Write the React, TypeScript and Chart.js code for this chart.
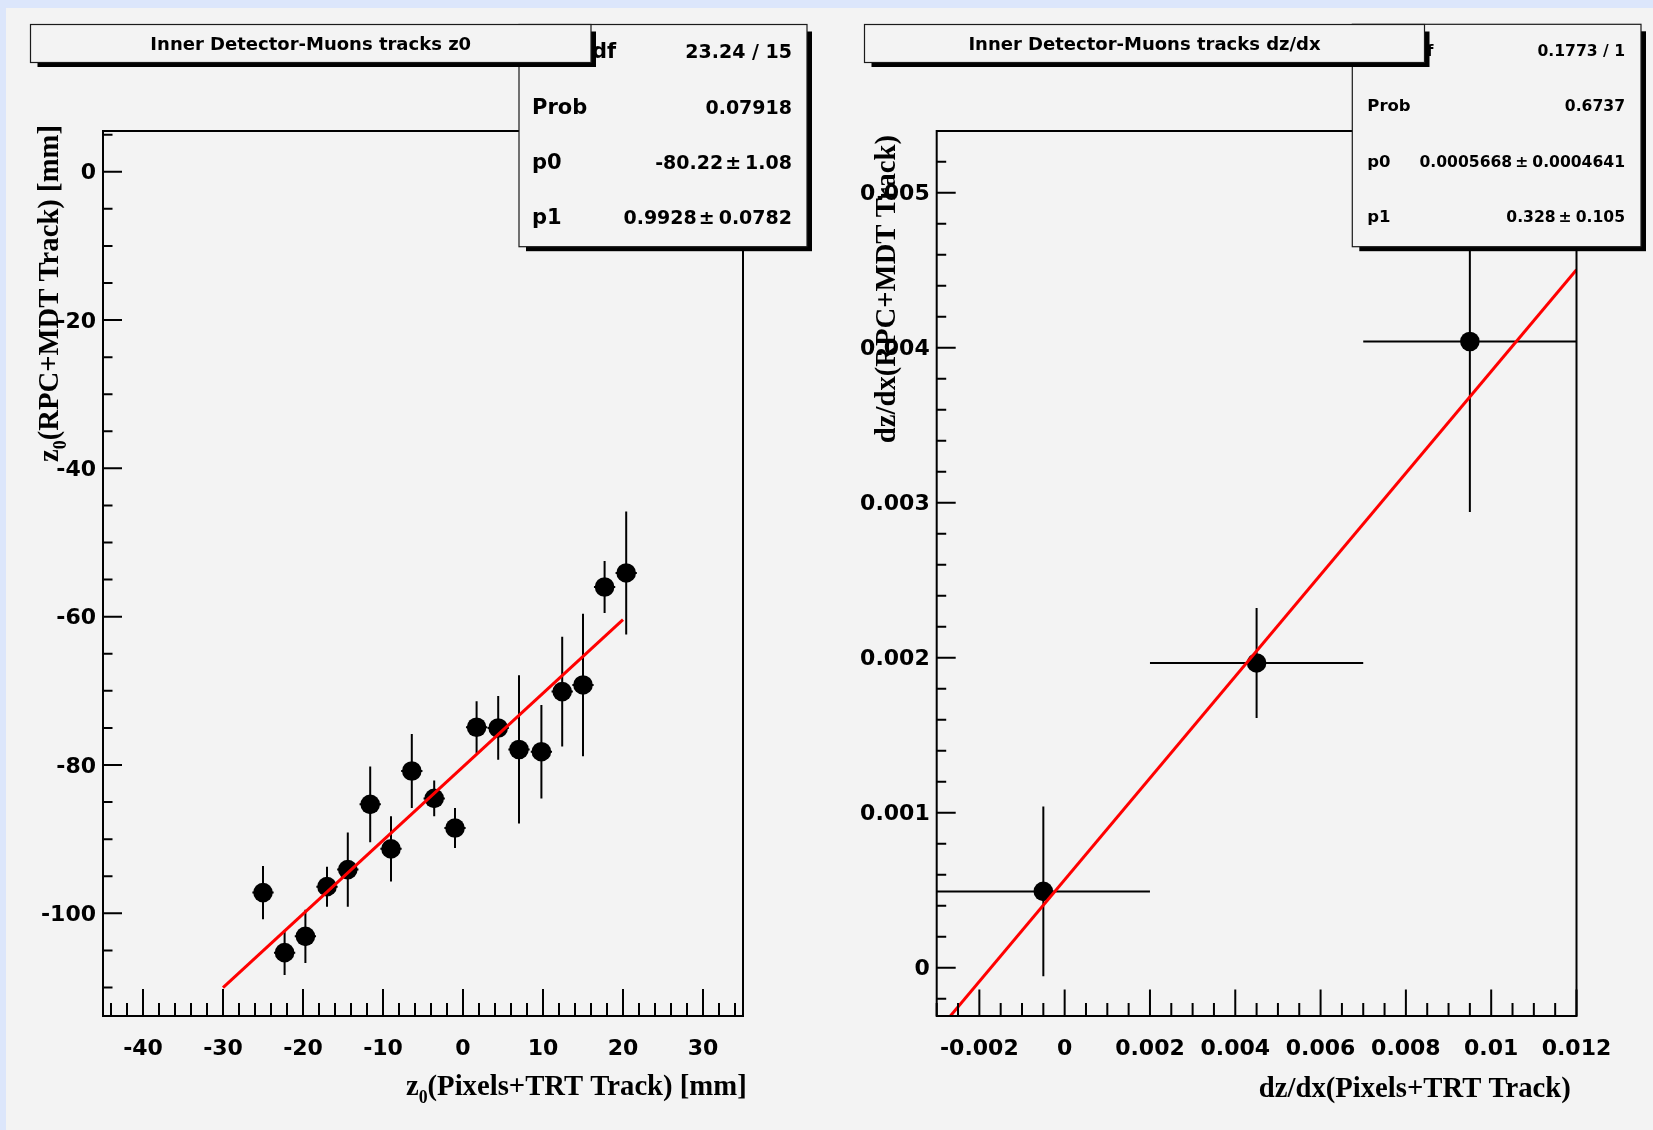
import { useEffect, useRef } from 'react';
import { Chart, registerables } from 'chart.js';

Chart.register(...registerables);

// ---------- data: left panel (z0) ----------
const z0X = [-25.0, -22.3, -19.7, -17.0, -14.4, -11.6, -9.0, -6.4, -3.6, -1.0, 1.7, 4.4, 7.0, 9.8, 12.4, 15.0, 17.7, 20.4];
const z0Y = [-97.2, -105.3, -103.1, -96.4, -94.1, -85.3, -91.3, -80.8, -84.5, -88.5, -74.9, -75.0, -77.9, -78.2, -70.1, -69.2, -56.0, -54.1];
const z0XErr = [1.33, 1.33, 1.33, 1.33, 1.33, 1.33, 1.33, 1.33, 1.33, 1.33, 1.33, 1.33, 1.33, 1.33, 1.33, 1.33, 1.33, 1.33];
const z0YErr = [3.6, 3.0, 3.6, 2.7, 5.0, 5.1, 4.4, 5.0, 2.4, 2.7, 3.5, 4.3, 10.0, 6.3, 7.4, 9.6, 3.5, 8.3];
const z0FitX = [-30, 20];
const z0FitY = [-110.0, -60.4];
const z0XTicks = [-40, -30, -20, -10, 0, 10, 20, 30];
const z0YTicks = [0, -20, -40, -60, -80, -100];
const z0StatLabels = ['χ² / ndf', 'Prob', 'p0', 'p1'];
const z0StatValues = ['23.24 / 15', '0.07918', '-80.22', '0.9928'];
const z0StatErrors = ['', '', '1.08', '0.0782'];

// ---------- data: right panel (dz/dx) ----------
const dzX = [-0.0005, 0.0045, 0.0095];
const dzY = [0.000492, 0.001966, 0.00404];
const dzXErr = [0.0025, 0.0025, 0.0025];
const dzYErr = [0.000547, 0.000355, 0.0011];
const dzFitX = [-0.003, 0.012];
const dzFitY = [-0.000417, 0.004503];
const dzXTicks = [-0.002, 0, 0.002, 0.004, 0.006, 0.008, 0.01, 0.012];
const dzYTicks = [0, 0.001, 0.002, 0.003, 0.004, 0.005];
const dzStatLabels = ['χ² / ndf', 'Prob', 'p0', 'p1'];
const dzStatValues = ['0.1773 / 1', '0.6737', '0.0005668', '0.328'];
const dzStatErrors = ['', '', '0.0004641', '0.105'];

const PAD = '#f3f3f3';
const BLUE = '#dce6fb';
const SANS = '"DejaVu Sans"';
const SERIF = '"Liberation Serif"';

type Part = { t: string; sub?: boolean };

interface Panel {
  w: number;
  h: number;
  area: { l: number; r: number; t: number; b: number };
  xMin: number; xMax: number; yMin: number; yMax: number;
  xTicks: number[]; yTicks: number[];
  xMinor: number; yMinor: number;
  xMajLen: number; xMinLen: number; yMajLen: number; yMinLen: number;
  xs: number[]; ys: number[]; ex: number[]; ey: number[];
  fitX: number[]; fitY: number[];
  fmt: (v: number) => string;
  title: string;
  titleBox: [number, number, number, number];
  titleBase: number;
  statLabels: string[]; statValues: string[]; statErrors: string[];
  statBox: [number, number, number, number];
  statLabelFont: number; statValueFont: number;
  statLabelX: number; statValueR: number; statBases: number[];
  pmGapL: number; pmGapR: number;
  xTitle: Part[]; xTitleR: number; xTitleBase: number;
  yTitle: Part[]; yTitleTop: number; yTitleBase: number;
}

const fmtNum = (v: number) => String(parseFloat(v.toFixed(6)));

const panels: Panel[] = [
  {
    w: 824, h: 1122,
    area: { l: 97, r: 737, t: 123, b: 1008 },
    xMin: -45, xMax: 35, yMin: -113.84, yMax: 5.49,
    xTicks: z0XTicks, yTicks: z0YTicks,
    xMinor: 2, yMinor: 5,
    xMajLen: 27, xMinLen: 13, yMajLen: 19, yMinLen: 9.5,
    xs: z0X, ys: z0Y, ex: z0XErr, ey: z0YErr,
    fitX: z0FitX, fitY: z0FitY,
    fmt: fmtNum,
    title: 'Inner Detector-Muons tracks z0',
    titleBox: [24.5, 16.5, 585, 54.5],
    titleBase: 42,
    statLabels: z0StatLabels, statValues: z0StatValues, statErrors: z0StatErrors,
    statBox: [513, 16.5, 801, 238.7],
    statLabelFont: 21, statValueFont: 19,
    statLabelX: 526, statValueR: 786, statBases: [50.3, 105.5, 160.7, 215.9],
    pmGapL: 2, pmGapR: 4,
    xTitle: [{ t: 'z' }, { t: '0', sub: true }, { t: '(Pixels+TRT Track) [mm]' }],
    xTitleR: 740.7, xTitleBase: 1087,
    yTitle: [{ t: 'z' }, { t: '0', sub: true }, { t: '(RPC+MDT Track) [mm]' }],
    yTitleTop: 117, yTitleBase: 52,
  },
  {
    w: 823, h: 1122,
    area: { l: 106.7, r: 746.5, t: 123, b: 1008 },
    xMin: -0.003, xMax: 0.012, yMin: -0.000312, yMax: 0.005398,
    xTicks: dzXTicks, yTicks: dzYTicks,
    xMinor: 0.0005, yMinor: 0.0002,
    xMajLen: 26.5, xMinLen: 13, yMajLen: 19, yMinLen: 9.5,
    xs: dzX, ys: dzY, ex: dzXErr, ey: dzYErr,
    fitX: dzFitX, fitY: dzFitY,
    fmt: fmtNum,
    title: 'Inner Detector-Muons tracks dz/dx',
    titleBox: [34.5, 16.5, 594.5, 54.5],
    titleBase: 42,
    statLabels: dzStatLabels, statValues: dzStatValues, statErrors: dzStatErrors,
    statBox: [522.3, 16.3, 811, 238.7],
    statLabelFont: 16.5, statValueFont: 15.6,
    statLabelX: 537.3, statValueR: 795, statBases: [48, 103, 158.7, 213.7],
    pmGapL: 3, pmGapR: 4,
    xTitle: [{ t: 'dz/dx(Pixels+TRT Track)' }],
    xTitleR: 740.8, xTitleBase: 1089,
    yTitle: [{ t: 'dz/dx(RPC+MDT Track)' }],
    yTitleTop: 127, yTitleBase: 65,
  },
];

function minorValues(min: number, max: number, step: number): number[] {
  const out: number[] = [];
  const s = Math.ceil(min / step - 1e-9);
  const e = Math.floor(max / step + 1e-9);
  for (let k = s; k <= e; k++) out.push(k * step);
  return out;
}

function drawPave(ctx: CanvasRenderingContext2D, l: number, t: number, r: number, b: number) {
  ctx.fillStyle = '#000';
  ctx.fillRect(l + 7, t + 7, r - l - 2, b - t - 2.5);
  ctx.fillStyle = PAD;
  ctx.fillRect(l, t, r - l, b - t);
  ctx.strokeStyle = '#1a1a1a';
  ctx.lineWidth = 1.2;
  ctx.strokeRect(l, t, r - l, b - t);
}

const TITLE_SIZE = 28.7;

function richWidth(ctx: CanvasRenderingContext2D, parts: Part[]) {
  let w = 0;
  for (const p of parts) {
    ctx.font = `bold ${p.sub ? TITLE_SIZE * 0.62 : TITLE_SIZE}px ${SERIF}`;
    w += ctx.measureText(p.t).width;
  }
  return w;
}

function drawRich(ctx: CanvasRenderingContext2D, parts: Part[], x: number, y: number) {
  let cx = x;
  ctx.textAlign = 'left';
  ctx.textBaseline = 'alphabetic';
  for (const p of parts) {
    const size = p.sub ? TITLE_SIZE * 0.62 : TITLE_SIZE;
    ctx.font = `bold ${size}px ${SERIF}`;
    ctx.fillText(p.t, cx, p.sub ? y + TITLE_SIZE * 0.27 : y);
    cx += ctx.measureText(p.t).width;
  }
}

function makePlugin(p: Panel) {
  return {
    id: 'rootPad',
    beforeDraw(chart: any) {
      const ctx: CanvasRenderingContext2D = chart.ctx;
      ctx.save();
      ctx.fillStyle = PAD;
      ctx.fillRect(0, 0, chart.width, chart.height);
      ctx.restore();
    },
    beforeDatasetsDraw(chart: any) {
      const ctx: CanvasRenderingContext2D = chart.ctx;
      const xs = chart.scales.x;
      const ys = chart.scales.y;
      const a = chart.chartArea;
      ctx.save();
      ctx.beginPath();
      ctx.rect(a.left, a.top, a.right - a.left, a.bottom - a.top);
      ctx.clip();
      ctx.strokeStyle = '#000';
      ctx.lineWidth = 2;
      ctx.beginPath();
      for (let i = 0; i < p.xs.length; i++) {
        const px = xs.getPixelForValue(p.xs[i]);
        const py = ys.getPixelForValue(p.ys[i]);
        ctx.moveTo(px, ys.getPixelForValue(p.ys[i] - p.ey[i]));
        ctx.lineTo(px, ys.getPixelForValue(p.ys[i] + p.ey[i]));
        ctx.moveTo(xs.getPixelForValue(p.xs[i] - p.ex[i]), py);
        ctx.lineTo(xs.getPixelForValue(p.xs[i] + p.ex[i]), py);
      }
      ctx.stroke();
      ctx.restore();
    },
    afterDraw(chart: any) {
      const ctx: CanvasRenderingContext2D = chart.ctx;
      const xs = chart.scales.x;
      const ys = chart.scales.y;
      const a = chart.chartArea;
      ctx.save();
      // inward ticks
      ctx.strokeStyle = '#000';
      ctx.lineWidth = 2;
      ctx.beginPath();
      for (const v of minorValues(p.xMin, p.xMax, p.xMinor)) {
        const px = xs.getPixelForValue(v);
        ctx.moveTo(px, a.bottom);
        ctx.lineTo(px, a.bottom - p.xMinLen);
      }
      for (const v of p.xTicks) {
        const px = xs.getPixelForValue(v);
        ctx.moveTo(px, a.bottom);
        ctx.lineTo(px, a.bottom - p.xMajLen);
      }
      for (const v of minorValues(p.yMin, p.yMax, p.yMinor)) {
        const py = ys.getPixelForValue(v);
        ctx.moveTo(a.left, py);
        ctx.lineTo(a.left + p.yMinLen, py);
      }
      for (const v of p.yTicks) {
        const py = ys.getPixelForValue(v);
        ctx.moveTo(a.left, py);
        ctx.lineTo(a.left + p.yMajLen, py);
      }
      ctx.stroke();
      // frame
      ctx.strokeRect(a.left, a.top, a.right - a.left, a.bottom - a.top);

      // axis titles
      ctx.fillStyle = '#000';
      const wx = richWidth(ctx, p.xTitle);
      drawRich(ctx, p.xTitle, p.xTitleR - wx, p.xTitleBase);
      const wy = richWidth(ctx, p.yTitle);
      ctx.save();
      ctx.translate(p.yTitleBase, p.yTitleTop);
      ctx.rotate(-Math.PI / 2);
      drawRich(ctx, p.yTitle, -wy, 0);
      ctx.restore();

      // stats box
      const [sl, st, sr, sb] = p.statBox;
      drawPave(ctx, sl, st, sr, sb);
      ctx.fillStyle = '#000';
      ctx.textBaseline = 'alphabetic';
      for (let i = 0; i < p.statLabels.length; i++) {
        const yb = p.statBases[i];
        ctx.font = `bold ${p.statLabelFont}px ${SANS}`;
        ctx.textAlign = 'left';
        ctx.fillText(p.statLabels[i], p.statLabelX, yb);
        ctx.font = `bold ${p.statValueFont}px ${SANS}`;
        ctx.textAlign = 'right';
        if (p.statErrors[i]) {
          let xr = p.statValueR;
          ctx.fillText(p.statErrors[i], xr, yb);
          xr -= ctx.measureText(p.statErrors[i]).width + p.pmGapR;
          ctx.fillText('±', xr, yb);
          xr -= ctx.measureText('±').width + p.pmGapL;
          ctx.fillText(p.statValues[i], xr, yb);
        } else {
          ctx.fillText(p.statValues[i], p.statValueR, yb);
        }
      }

      // title box (drawn over stats)
      const [tl, tt, tr, tb] = p.titleBox;
      drawPave(ctx, tl, tt, tr, tb);
      ctx.fillStyle = '#000';
      ctx.font = `bold 18px ${SANS}`;
      ctx.textAlign = 'center';
      ctx.fillText(p.title, (tl + tr) / 2, p.titleBase);
      ctx.restore();
    },
  };
}

function makeChart(canvas: HTMLCanvasElement, p: Panel) {
  const tickFont = { family: SANS, weight: 'bold' as const, size: 22 };
  return new Chart(canvas, {
    type: 'scatter',
    data: {
      datasets: [
        {
          type: 'line',
          data: p.fitX.map((x, i) => ({ x, y: p.fitY[i] })),
          borderColor: '#ff0000',
          borderWidth: 3,
          pointRadius: 0,
          fill: false,
          tension: 0,
        } as any,
        {
          type: 'scatter',
          data: p.xs.map((x, i) => ({ x, y: p.ys[i] })),
          pointRadius: 9.8,
          pointHoverRadius: 9.8,
          backgroundColor: '#000',
          pointBackgroundColor: '#000',
          pointBorderWidth: 0,
          borderWidth: 0,
        } as any,
      ],
    },
    options: {
      animation: false,
      responsive: false,
      maintainAspectRatio: false,
      events: [],
      layout: { padding: { left: 0, top: p.area.t, right: p.w - p.area.r, bottom: 0 } },
      plugins: { legend: { display: false }, tooltip: { enabled: false }, title: { display: false } },
      scales: {
        x: {
          type: 'linear',
          min: p.xMin,
          max: p.xMax,
          afterBuildTicks: (s: any) => { s.ticks = p.xTicks.map((v) => ({ value: v })); },
          afterFit: (s: any) => { s.height = p.h - p.area.b; },
          ticks: { callback: (v: any) => p.fmt(Number(v)), font: tickFont, color: '#000', padding: 20, maxRotation: 0, autoSkip: false },
          grid: { display: false, drawTicks: false },
          border: { display: false },
        },
        y: {
          type: 'linear',
          min: p.yMin,
          max: p.yMax,
          afterBuildTicks: (s: any) => { s.ticks = p.yTicks.map((v) => ({ value: v })); },
          afterFit: (s: any) => { s.width = p.area.l; },
          ticks: { callback: (v: any) => p.fmt(Number(v)), font: tickFont, color: '#000', padding: 7, labelOffset: 2, autoSkip: false },
          grid: { display: false, drawTicks: false },
          border: { display: false },
        },
      },
    } as any,
    plugins: [makePlugin(p)],
  });
}

export default function App() {
  const c1 = useRef<HTMLCanvasElement>(null);
  const c2 = useRef<HTMLCanvasElement>(null);
  useEffect(() => {
    const charts: Chart[] = [];
    if (c1.current) charts.push(makeChart(c1.current, panels[0]));
    if (c2.current) charts.push(makeChart(c2.current, panels[1]));
    return () => charts.forEach((c) => c.destroy());
  }, []);
  return (
    <div style={{ position: 'absolute', left: 0, top: 0, width: 1653, height: 1130, background: BLUE, overflow: 'hidden' }}>
      <canvas ref={c1} width={824} height={1122} style={{ position: 'absolute', left: 6, top: 8, width: 824, height: 1122 }} />
      <canvas ref={c2} width={823} height={1122} style={{ position: 'absolute', left: 830, top: 8, width: 823, height: 1122 }} />
    </div>
  );
}
